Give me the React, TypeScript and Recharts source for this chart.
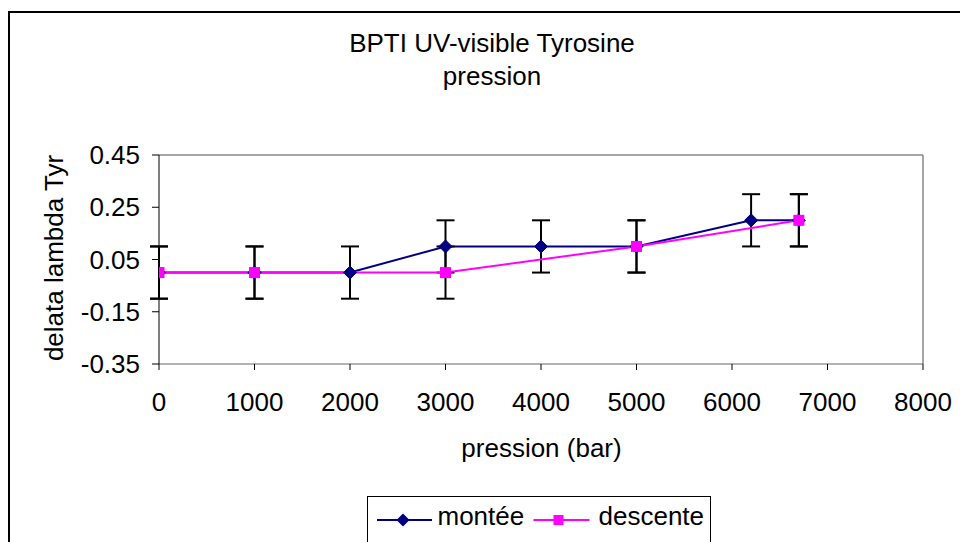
import React from 'react';
import {
  LineChart,
  Line,
  XAxis,
  YAxis,
  ErrorBar,
  ReferenceLine,
  Legend,
} from 'recharts';

const monteePressure = [0, 1000, 2000, 3000, 4000, 5000, 6200, 6700];
const monteeDelta = [0, 0, 0, 0.1, 0.1, 0.1, 0.2, 0.2];
const monteeErr = [0.1, 0.1, 0.1, 0.1, 0.1, 0.1, 0.1, 0.1];

const descentePressure = [0, 1000, 3000, 5000, 6700];
const descenteDelta = [0, 0, 0, 0.1, 0.2];
const descenteErr = [0.1, 0.1, 0.1, 0.1, 0.1];

const xTicks = [0, 1000, 2000, 3000, 4000, 5000, 6000, 7000, 8000];
const yTicks = [-0.35, -0.15, 0.05, 0.25, 0.45];

const montee = monteePressure.map((p, i) => ({ p, v: monteeDelta[i], e: monteeErr[i] }));
const descente = descentePressure.map((p, i) => ({ p, v: descenteDelta[i], e: descenteErr[i] }));

const FONT = '"Liberation Sans", Arial, sans-serif';
const NAVY = '#000080';
const PINK = '#FF00FF';
const FS = 26;

const Diamond = (props: any) => {
  const { cx, cy, index } = props;
  if (cx == null || cy == null) return null;
  const r = 6.5;
  return (
    <path
      key={`d-${index}`}
      d={`M${cx},${cy - r}L${cx + r},${cy}L${cx},${cy + r}L${cx - r},${cy}Z`}
      fill={NAVY}
      stroke={NAVY}
    />
  );
};

const Square = (props: any) => {
  const { cx, cy, index } = props;
  if (cx == null || cy == null) return null;
  const r = 5.5;
  return <rect key={`s-${index}`} x={cx - r} y={cy - r} width={2 * r} height={2 * r} fill={PINK} />;
};

const LegendBox = () => (
  <div
    style={{
      width: 342,
      height: 60,
      border: '1.5px solid #000',
      background: '#fff',
      position: 'relative',
    }}
  >
    <svg width={342} height={60} style={{ position: 'absolute', left: 0, top: 0 }}>
      <line x1={9} y1={23} x2={64} y2={23} stroke={NAVY} strokeWidth={2} />
      <path d="M35,16.5L41.5,23L35,29.5L28.5,23Z" fill={NAVY} />
      <line x1={165.5} y1={23} x2={221.5} y2={23} stroke={PINK} strokeWidth={2} />
      <rect x={185.5} y={18} width={10} height={10} fill={PINK} />
      <text x={69.5} y={28} fontSize={FS} fontFamily={FONT}>montée</text>
      <text x={230.5} y={28} fontSize={FS} fontFamily={FONT}>descente</text>
    </svg>
  </div>
);

export default function App() {
  return (
    <div
      style={{
        position: 'absolute',
        left: 0,
        top: 0,
        width: 960,
        height: 542,
        overflow: 'hidden',
        background: '#fff',
        fontFamily: FONT,
      }}
    >
      <div
        style={{
          position: 'absolute',
          left: 8,
          top: 11,
          width: 1000,
          height: 600,
          border: '2px solid #000',
        }}
      />
      <div
        style={{
          position: 'absolute',
          left: 292,
          top: 26.6,
          width: 400,
          textAlign: 'center',
          fontSize: FS,
          lineHeight: '33.4px',
          color: '#000',
        }}
      >
        BPTI UV-visible Tyrosine
        <br />
        pression
      </div>
      <div style={{ position: 'absolute', left: 0, top: 0 }}>
        <LineChart
          width={960}
          height={542}
          margin={{ top: 155, right: 37, bottom: 118, left: 99 }}
        >
          <XAxis
            type="number"
            dataKey="p"
            domain={[0, 8000]}
            ticks={xTicks}
            allowDataOverflow
            height={60}
            stroke="#666"
            tickSize={6}
            tickMargin={23}
            tick={{ fill: '#000', fontSize: FS, fontFamily: FONT }}
            tickLine={{ stroke: '#000' }}
          />
          <YAxis
            type="number"
            domain={[-0.35, 0.45]}
            ticks={yTicks}
            allowDataOverflow
            width={60}
            stroke="#000"
            tickSize={7}
            tickMargin={12}
            tick={{ fill: '#000', fontSize: FS, fontFamily: FONT }}
          />
          <ReferenceLine y={0.45} stroke="#888" strokeWidth={1.5} />
          <ReferenceLine x={8000} stroke="#888" strokeWidth={1.5} />
          <Line
            data={montee}
            dataKey="v"
            name="montée"
            stroke={NAVY}
            strokeWidth={2}
            dot={Diamond}
            activeDot={false}
            isAnimationActive={false}
          >
            <ErrorBar dataKey="e" direction="y" width={9} stroke="#000" strokeWidth={2} />
          </Line>
          <Line
            data={descente}
            dataKey="v"
            name="descente"
            stroke={PINK}
            strokeWidth={2}
            dot={Square}
            activeDot={false}
            isAnimationActive={false}
          >
            <ErrorBar dataKey="e" direction="y" width={9} stroke="#000" strokeWidth={2} />
          </Line>
          <Legend
            layout="horizontal"
            verticalAlign="middle"
            content={<LegendBox />}
            wrapperStyle={{ position: 'absolute', left: 367, top: 496, width: 345, height: 63 }}
          />
        </LineChart>
      </div>
      <div
        style={{
          position: 'absolute',
          left: 54,
          top: 258,
          transform: 'translate(-50%, -50%) rotate(-90deg)',
          whiteSpace: 'nowrap',
          fontSize: FS,
          lineHeight: '30px',
          color: '#000',
        }}
      >
        delata lambda Tyr
      </div>
      <div
        style={{
          position: 'absolute',
          left: 541.5,
          top: 433,
          transform: 'translateX(-50%)',
          whiteSpace: 'nowrap',
          fontSize: FS,
          lineHeight: '30px',
          color: '#000',
        }}
      >
        pression (bar)
      </div>
    </div>
  );
}
